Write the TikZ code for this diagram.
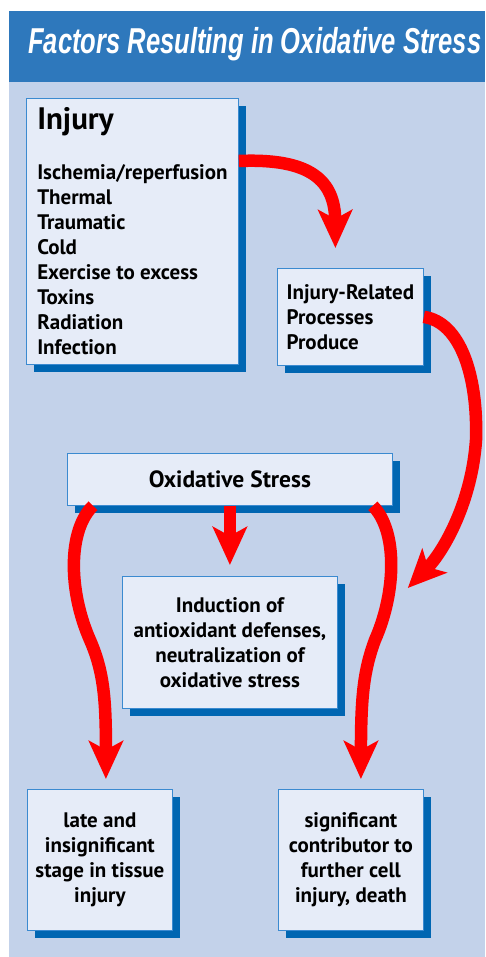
\documentclass[tikz,border=0pt]{standalone}
\usepackage{fontspec}
\usepackage{tikz}
\usetikzlibrary{arrows.meta, calc, shadows}
\setmainfont{PT Sans}
\newfontfamily\boxfont{PT Sans}
\newfontfamily\titlefont[FakeStretch=0.71]{Liberation Sans}
\definecolor{hBlue}{HTML}{2E78BC}
\definecolor{bgBlue}{HTML}{C3D2EA}
\definecolor{bFill}{HTML}{E6ECF8}
\definecolor{bEdge}{HTML}{3B8AD0}
\definecolor{bShadow}{HTML}{0066B2}
\definecolor{aRed}{HTML}{FF0000}

\begin{document}
\begin{tikzpicture}[x=1pt, y=-1pt,
  box/.style={draw=bEdge, line width=0.8pt, fill=bFill, anchor=north west,
              inner sep=0pt, align=center, font=\boxfont\bfseries\fontsize{21}{25}\selectfont,
              drop shadow={shadow xshift=8pt, shadow yshift=-8pt, fill=bShadow, opacity=1}},
  flow/.style={draw=aRed, line width=12.5pt,
               -{Stealth[length=38pt, width=34pt, inset=9pt]}},
]
  \fill[white] (0,0) rectangle (485,957);
  \useasboundingbox (0,0) rectangle (485,957);
  \fill[bgBlue] (9,82) rectangle (485,957);
  \fill[hBlue] (9,11) rectangle (485,82);

  % HEADER
  \node[text=white, font=\titlefont\bfseries\itshape\fontsize{36}{36}\selectfont,
        anchor=base west, inner sep=0pt] (title) at (28,54) {Factors Resulting in Oxidative Stress};

  % TOP
  \node[box, minimum width=212pt, minimum height=266pt, align=left] (inj) at (26,98)
    {{\fontsize{31}{31}\selectfont Injury}\\[25pt] Ischemia/reperfusion\\ Thermal\\ Traumatic\\ Cold\\
     Exercise to excess\\ Toxins\\ Radiation\\ Infection};
  \node[box, minimum width=146pt, minimum height=97pt, align=left] (irp) at (277,268)
    {Injury-Related\\ Processes\\ Produce};

  % MIDDLE
  \node[box, minimum width=325pt, minimum height=52pt,
        font=\boxfont\bfseries\fontsize{23.5}{25}\selectfont] (ox) at (67,453) {Oxidative Stress};
  \node[box, minimum width=215pt, minimum height=132pt] (ind) at (122,576)
    {Induction of\\ antioxidant defenses,\\ neutralization of\\ oxidative stress};

  % BOTTOM
  \node[box, minimum width=145pt, minimum height=141pt] (late) at (27,789)
    {late and\\ insignificant\\ stage in tissue\\ injury};
  \node[box, minimum width=145pt, minimum height=141pt] (sig) at (278,789)
    {significant\\ contributor to\\ further cell\\ injury, death};

  % ARROWS
  \draw[flow] ($(inj.north east)+(0,63)$) .. controls (310,158) and (335,180) .. ($(irp.north)+(-15,-20)$);
  \draw[flow] (irp.east) .. controls (460,322) and (478,375) .. (476,440)
              .. controls (472,500) and (445,550) .. ($(ind.north east)+(70,12)$);
  \draw[flow] (ox.south) -- ($(ind.north)+(0,-11)$);
  \draw[flow] ($(ox.south west)+(26,0)$) .. controls (68,530) and (68,590) .. (90,640)
              .. controls (104,672) and (106,700) .. ($(late.north)+(6,-10)$);
  \draw[flow] ($(ox.south east)+(-20,0)$) .. controls (397,530) and (397,590) .. (375,640)
              .. controls (363,672) and (361,700) .. ($(sig.north)+(10,-10)$);
\end{tikzpicture}
\end{document}
